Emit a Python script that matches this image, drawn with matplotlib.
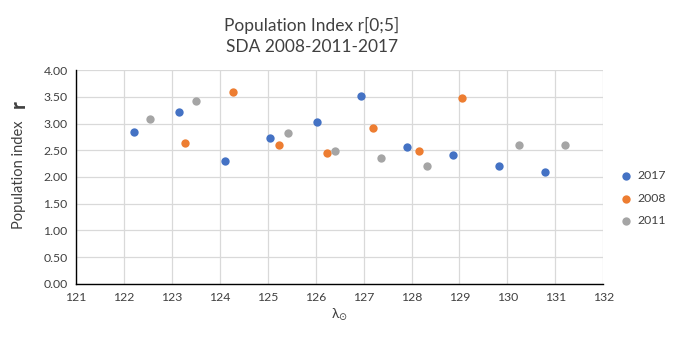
import matplotlib
matplotlib.use("Agg")
import matplotlib.pyplot as plt

plt.rcParams['font.family'] = ['Lato', 'DejaVu Sans']

# Population index r per solar longitude, by year
x_2017 = [122.20, 123.15, 124.10, 125.05, 126.02, 126.95, 127.90, 128.87, 129.83, 130.79]
r_2017 = [2.84, 3.21, 2.30, 2.73, 3.03, 3.52, 2.56, 2.41, 2.21, 2.09]

x_2008 = [123.28, 124.27, 125.23, 126.23, 127.20, 128.15, 129.05]
r_2008 = [2.63, 3.58, 2.60, 2.45, 2.91, 2.49, 3.47]

x_2011 = [122.55, 123.50, 125.42, 126.40, 127.37, 128.32, 130.25, 131.21]
r_2011 = [3.08, 3.43, 2.82, 2.49, 2.36, 2.21, 2.60, 2.60]

series = [("2017", x_2017, r_2017, "#4472C4"),
          ("2008", x_2008, r_2008, "#ED7D31"),
          ("2011", x_2011, r_2011, "#A5A5A5")]

x_ticks = list(range(121, 133))
y_ticks = [0.0, 0.5, 1.0, 1.5, 2.0, 2.5, 3.0, 3.5, 4.0]

fig = plt.figure(figsize=(6.91, 3.40), dpi=100)
ax = fig.add_axes([0.110, 0.165, 0.763, 0.629])

for label, xs, ys, color in series:
    ax.scatter(xs, ys, s=36, color=color, label=label, zorder=3, linewidths=0)

ax.set_xlim(121, 132)
ax.set_ylim(0, 4)
ax.set_xticks(x_ticks)
ax.set_yticks(y_ticks)
ax.set_yticklabels([f"{v:.2f}" for v in y_ticks])
ax.tick_params(length=0, labelsize=8.8, colors="#404040", pad=6)
ax.grid(True, color="#D9D9D9", linewidth=0.9, zorder=0)
ax.set_axisbelow(True)
for side in ("top", "right"):
    ax.spines[side].set_visible(False)
for side in ("left", "bottom"):
    ax.spines[side].set_color("black")
    ax.spines[side].set_linewidth(1.0)

ax.set_xlabel("λ$_{\\odot}$", fontsize=10, color="#404040", labelpad=2)

fig.text(0.451, 0.925, "Population Index r[0;5]", ha="center", va="center",
         fontsize=12.5, color="#404040")
fig.text(0.451, 0.862, "SDA 2008-2011-2017", ha="center", va="center",
         fontsize=12.5, color="#404040")

fig.text(0.027, 0.485, "Population index", rotation=90, ha="center", va="center",
         fontsize=10.5, color="#404040")
fig.text(0.027, 0.695, "r", rotation=90, ha="center", va="center",
         fontsize=15, fontweight="bold", color="#404040")

leg = ax.legend(loc="center left", bbox_to_anchor=(1.01, 0.40), frameon=False,
                fontsize=8.8, handletextpad=0.0, labelspacing=0.95,
                markerscale=1.0, borderaxespad=0)
for t in leg.get_texts():
    t.set_color("#404040")

fig.savefig("out.png", dpi=100)
